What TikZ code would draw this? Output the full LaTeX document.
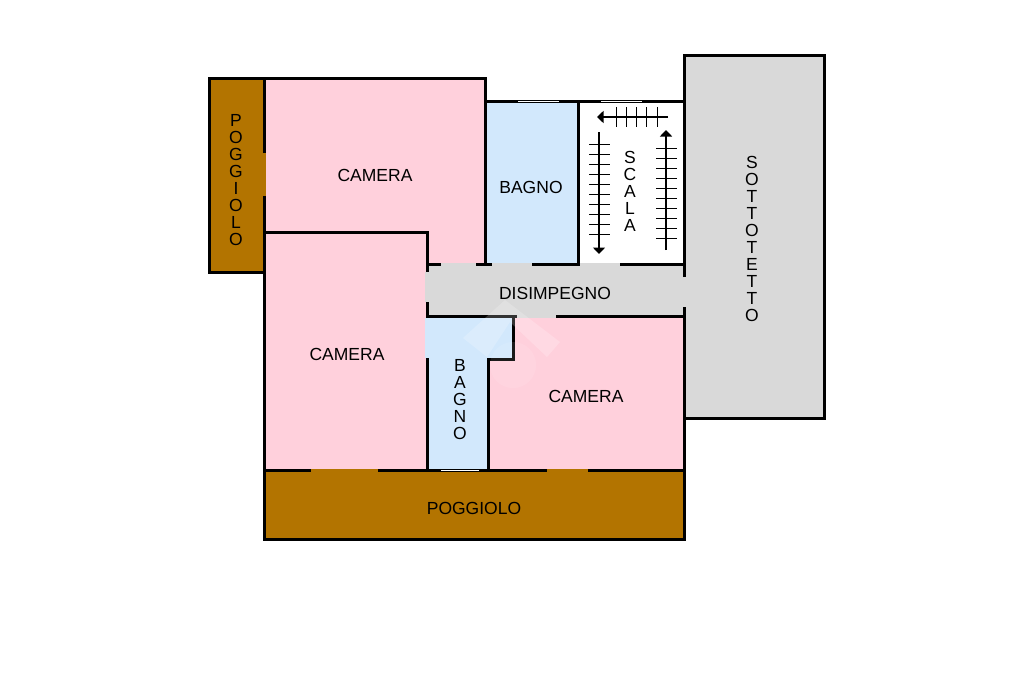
\documentclass[tikz,border=0pt]{standalone}
\usepackage{fontspec}
\setmainfont{Liberation Sans}
\usetikzlibrary{arrows.meta}
\definecolor{brownroom}{HTML}{B37400}
\definecolor{pinkroom}{HTML}{FFD0DC}
\definecolor{blueroom}{HTML}{D2E8FC}
\definecolor{greyroom}{HTML}{D9D9D9}
\tikzset{
  wall/.style={line width=3pt,line cap=butt,line join=miter,black},
  win/.style={line width=1pt,white},
  room/.style={draw=none},
  label/.style={font=\fontsize{17.5}{17}\selectfont,inner sep=0pt,align=center,text=black},
  run/.style={line width=1.8pt,-{Triangle[width=12pt,length=6.5pt]}},
  tread/.style={line width=.8pt},
}
\begin{document}
\begin{tikzpicture}[x=1pt,y=-1pt]
\useasboundingbox (0,0) rectangle (1024,682);
\fill[white] (0,0) rectangle (1024,682);
% rooms
\fill[brownroom,room] (209.5,78.5) rectangle (264.5,272);
\fill[brownroom,room] (264.5,470.5) rectangle (684.5,539);
\fill[pinkroom,room] (264.5,78.5) -- (485.5,78.5) -- (485.5,264) -- (427,264) -- (427,232) -- (264.5,232) -- cycle;
\fill[pinkroom,room] (264.5,232) rectangle (427,470.5);
\fill[blueroom,room] (485.5,102) rectangle (578,264);
\fill[greyroom,room] (427,264) rectangle (684.5,316);
\fill[greyroom,room] (684.5,56) rectangle (824.5,418);
\fill[blueroom,room] (427,316) -- (513,316) -- (513,359) -- (488,359) -- (488,470.5) -- (427,470.5) -- cycle;
\fill[pinkroom,room] (513,316) -- (684.5,316) -- (684.5,470.5) -- (488,470.5) -- (488,359) -- (513,359) -- cycle;
% door sills
\fill[brownroom] (263.5,153) rectangle (266,196);
\fill[brownroom] (311,468.5) rectangle (378,471.5);
\fill[brownroom] (547,468.5) rectangle (588,471.5);
\fill[greyroom] (425,272) rectangle (428,302);
\fill[greyroom] (441,262.8) rectangle (476,265);
\fill[greyroom] (492,262.8) rectangle (532,265);
\fill[greyroom] (578,262.8) rectangle (620,265);
\fill[greyroom] (517,315) rectangle (556,318);
\fill[blueroom] (425,318) rectangle (428,358);
% walls
\draw[wall] (264.5,153) -- (264.5,78.5) -- (209.5,78.5) -- (209.5,272) -- (264.5,272);
\draw[wall] (264.5,78.5) -- (485.5,78.5) -- (485.5,264);
\draw[wall] (264.5,196) -- (264.5,539) -- (684.5,539) -- (684.5,307);
\draw[wall] (264.5,232) -- (427,232) -- (427,272);
\draw[wall] (427,264) -- (441,264);
\draw[wall] (476,264) -- (492,264);
\draw[wall] (532,264) -- (578,264) -- (578,102);
\draw[wall] (620,264) -- (684.5,264);
\draw[wall] (485.5,102) -- (684.5,102);
\draw[wall] (684.5,277) -- (684.5,56) -- (824.5,56) -- (824.5,418) -- (684.5,418);
\draw[wall] (427,302) -- (427,318);
\draw[wall] (427,358) -- (427,470);
\draw[wall] (427,316) -- (517,316);
\draw[wall] (556,316) -- (684.5,316);
\draw[wall] (513,316) -- (513,359) -- (488,359);
\draw[wall] (488,358) -- (488,470);
\draw[wall] (264.5,470.5) -- (311,470.5);
\draw[wall] (378,470.5) -- (547,470.5);
\draw[wall] (588,470.5) -- (684.5,470.5);
% windows
\draw[win] (518,102) -- (559,102);
\draw[win] (601,102) -- (642,102);
\draw[win] (441,470.5) -- (479,470.5);
% watermark
\fill[white,opacity=.2] (505,300) -- (560,342) -- (547,357) -- (510,322) -- (487,357) -- (463,338) -- cycle;
\fill[white,opacity=.1] (513,365) circle (23);
% stairs
\coordinate (dn0) at (599,132); \coordinate (dn1) at (599,254);
\coordinate (up0) at (666,250); \coordinate (up1) at (666,130);
\coordinate (ac0) at (668,117); \coordinate (ac1) at (597,117);
\draw[run] (dn0) -- (dn1);
\draw[run] (up0) -- (up1);
\draw[run] (ac0) -- (ac1);
\foreach \y in {144,154,...,234} \draw[tread] (589,\y) -- (610,\y);
\foreach \y in {148,158,...,238} \draw[tread] (656,\y) -- (677,\y);
\foreach \x in {616,626,636,646,657} \draw[tread] (\x,107) -- (\x,127);
% labels
\node[label] (l1) at (236,180.5) {P\\O\\G\\G\\I\\O\\L\\O};
\node[label] (l2) at (375,175.5) {CAMERA};
\node[label] (l3) at (531,187.5) {BAGNO};
\node[label] (l4) at (630,191.5) {S\\C\\A\\L\\A};
\node[label] (l5) at (752,238.5) {S\\O\\T\\T\\O\\T\\E\\T\\T\\O};
\node[label] (l6) at (555,293.5) {DISIMPEGNO};
\node[label] (l7) at (347,354.5) {CAMERA};
\node[label] (l8) at (460,399.5) {B\\A\\G\\N\\O};
\node[label] (l9) at (586,396.5) {CAMERA};
\node[label] (l10) at (474,508.5) {POGGIOLO};
\end{tikzpicture}
\end{document}
